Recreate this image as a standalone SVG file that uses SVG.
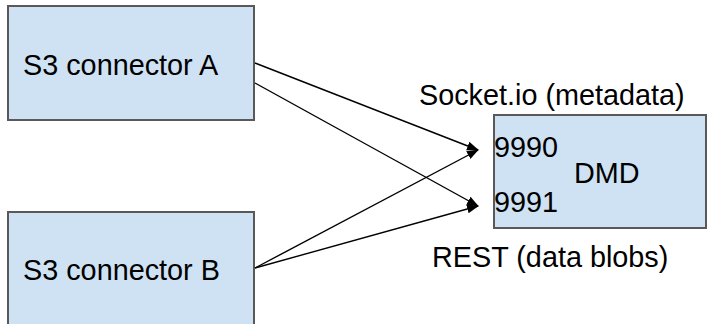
<svg xmlns="http://www.w3.org/2000/svg" width="708" height="324" viewBox="0 0 708 324">
<style>
.box{fill:#cfe2f3;stroke:#595959;stroke-width:2}
.t{font-family:"Liberation Sans",Arial,sans-serif;font-size:28.8px;fill:#000}
.c{fill:none;stroke:#000;stroke-width:1.4}
</style>
<defs>
<marker id="ah" markerWidth="12" markerHeight="10" refX="11" refY="4.5" orient="auto" markerUnits="userSpaceOnUse">
<path d="M0,0 L12,4.5 L0,9 Z" fill="#000"/>
</marker>
</defs>
<rect width="708" height="324" fill="#fff"/>
<g id="nodeA">
<rect class="box" x="8" y="6" width="246" height="114"/>
<text class="t" x="23" y="75">S3 connector A</text>
</g>
<g id="nodeB">
<rect class="box" x="8" y="212" width="246" height="120"/>
<text class="t" x="23" y="280">S3 connector B</text>
</g>
<g id="nodeDMD">
<rect class="box" x="494" y="115" width="212" height="113"/>
<text class="t" x="494" y="157">9990</text>
<text class="t" x="574" y="183">DMD</text>
<text class="t" x="494" y="212">9991</text>
</g>
<g id="labels">
<text class="t" x="419" y="105">Socket.io (metadata)</text>
<text class="t" x="432" y="267">REST (data blobs)</text>
</g>
<g id="connectors">
<line class="c" x1="255" y1="63" x2="478" y2="150" marker-end="url(#ah)"/>
<line class="c" x1="255" y1="83" x2="478" y2="206" marker-end="url(#ah)"/>
<line class="c" x1="255" y1="268" x2="478" y2="150" marker-end="url(#ah)"/>
<line class="c" x1="255" y1="268" x2="478" y2="206" marker-end="url(#ah)"/>
</g>
</svg>
